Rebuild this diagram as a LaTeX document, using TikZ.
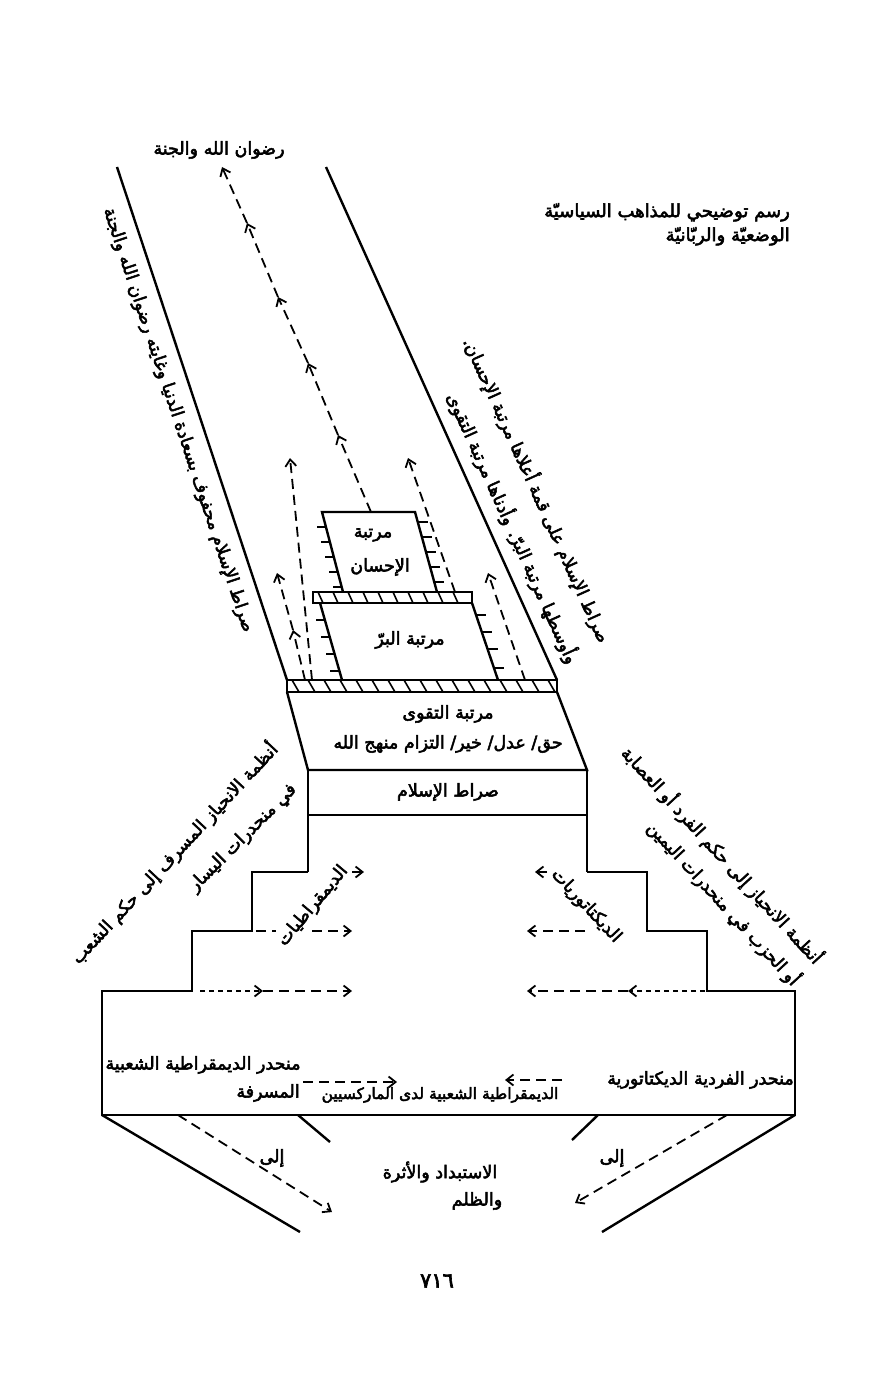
\documentclass[tikz,border=0pt]{standalone}
\usepackage{fontspec}
\usetikzlibrary{arrows.meta}
\newfontfamily\arfont[Script=Arabic,FakeBold=3]{DejaVu Sans}
\TeXXeTstate=1
\newcommand\artx[1]{\beginR #1\endR}
\begin{document}
\begin{tikzpicture}[x=1pt,y=-1pt,
 ln/.style={line width=2.4pt, line join=miter},
 tk/.style={line width=1.8pt},
 hl/.style={line width=1.6pt},
 dsh/.style={line width=1.8pt, dash pattern=on 10pt off 6pt},
 dsf/.style={line width=1.8pt, dash pattern=on 5pt off 4pt},
 arr/.style={-{Straight Barb[length=7pt,width=11pt]}},
 txt/.style={font=\arfont\fontsize{17.5}{21}\selectfont, inner sep=0pt, align=center},
 txtb/.style={font=\arfont\fontsize{18}{24}\selectfont, inner sep=0pt, align=right}]
\useasboundingbox (0,0) rectangle (873,1380);

% ---------- road ----------
\draw[ln] (117,167) -- (287,680);
\draw[ln] (326,167) -- (557,680);

% lower hatched band
\draw[ln] (287,680) rectangle (557,692);
\foreach \x in {292,308,...,548} \draw[hl] (\x,680) -- (\x+7,692);
% Taqwa box
\draw[ln] (287,692) -- (308,770) -- (587,770) -- (557,692);
% Islam box and its walls
\draw[ln] (308,770) -- (308,872);
\draw[ln] (587,770) -- (587,872);
\draw[ln] (308,815) -- (587,815);

% stairs and lower box
\draw[ln] (308,872) -- (252,872) -- (252,931) -- (192,931) -- (192,991) -- (102,991)
  -- (102,1115) -- (795,1115) -- (795,991) -- (707,991) -- (707,931) -- (647,931)
  -- (647,872) -- (587,872);

% lines below
\draw[ln] (102,1115) -- (300,1232);
\draw[ln] (298,1115) -- (330,1142);
\draw[ln] (795,1115) -- (602,1232);
\draw[ln] (598,1115) -- (572,1140);
\coordinate (bl0) at (178,1115); \coordinate (bl1) at (332,1212);
\coordinate (br0) at (727,1115); \coordinate (br1) at (575,1203);
\draw[dsh,arr] (bl0) -- (bl1);
\draw[dsh,arr] (br0) -- (br1);

% upper hatched band
\draw[ln] (313,592) rectangle (472,603);
\foreach \x in {318,333,...,463} \draw[hl] (\x,592) -- (\x+5,603);
% Birr box
\draw[ln] (320,603) -- (342,680);
\draw[ln] (472,603) -- (498,680);
\foreach \y in {620,637,654,671} \draw[tk] ({320+(\y-603)*0.2857},\y) -- ++(-9,0);
\foreach \y in {615,632,649,668} \draw[tk] ({472+(\y-603)*0.3377},\y) -- ++(10,0);
% Ihsan box
\draw[ln] (343,592) -- (322,512) -- (415,512) -- (437,592);
\foreach \y in {527,542,557,572,587} \draw[tk] ({322+(\y-512)*0.2625},\y) -- ++(-9,0);
\foreach \y in {522,537,552,567,582} \draw[tk] ({415+(\y-512)*0.275},\y) -- ++(10,0);

% dashed arrows in the road
\coordinate (c0) at (371,512); \coordinate (c1) at (338,435); \coordinate (c2) at (308,363);
\coordinate (c3) at (278,297); \coordinate (c4) at (247,223); \coordinate (c5) at (222,167);
\draw[dsh,arr] (c0) -- (c1);
\draw[dsh,arr] (c1) -- (c2);
\draw[dsh,arr] (c2) -- (c3);
\draw[dsh,arr] (c3) -- (c4);
\draw[dsh,arr] (c4) -- (c5);
\coordinate (l10) at (312,680); \coordinate (l11) at (290,458);
\draw[dsh,arr] (l10) -- (l11);
\coordinate (l20) at (305,680); \coordinate (l21) at (293,630); \coordinate (l22) at (277,573);
\draw[dsh,arr] (l20) -- (l21);
\draw[dsh,arr] (l21) -- (l22);
\coordinate (r10) at (455,592); \coordinate (r11) at (408,458);
\draw[dsh,arr] (r10) -- (r11);
\coordinate (r20) at (525,680); \coordinate (r21) at (488,573);
\draw[dsh,arr] (r20) -- (r21);

% stair arrows
\coordinate (sa0) at (352,872); \coordinate (sa1) at (364,872);
\draw[tk,arr] (sa0) -- (sa1);
\draw[dsh] (256,931) -- (276,931);
\coordinate (sb0) at (312,931); \coordinate (sb1) at (352,931);
\draw[dsh,arr] (sb0) -- (sb1);
\coordinate (sc0) at (200,991); \coordinate (sc1) at (263,991); \coordinate (sc2) at (352,991);
\draw[dsf,arr] (sc0) -- (sc1);
\draw[dsh,arr] (sc1) -- (sc2);
\coordinate (ta0) at (547,872); \coordinate (ta1) at (535,872);
\draw[tk,arr] (ta0) -- (ta1);
\coordinate (tb0) at (585,931); \coordinate (tb1) at (527,931);
\draw[dsh,arr] (tb0) -- (tb1);
\coordinate (tc0) at (705,991); \coordinate (tc1) at (628,991); \coordinate (tc2) at (527,991);
\draw[dsf,arr] (tc0) -- (tc1);
\draw[dsh,arr] (tc1) -- (tc2);

% arrows in lower box
\coordinate (ba0) at (303,1082); \coordinate (ba1) at (397,1082);
\draw[dsh,arr] (ba0) -- (ba1);
\coordinate (bb0) at (562,1080); \coordinate (bb1) at (505,1080);
\draw[dsh,arr] (bb0) -- (bb1);

% ---------- texts ----------
\node[txt] (goal) at (219,150) {\artx{رضوان الله والجنة}};
\node[txtb, anchor=north east] (title) at (790,203) {\artx{رسم توضيحي للمذاهب السياسيّة}\\\artx{الوضعيّة والربّانيّة}};

\node[txt, rotate=-71.66] (lroad) at (178,420) {\artx{صراط الإسلام محفوف بسعادة الدنيا وغايته رضوان الله والجنة}};
\node[txt, rotate=-65.76] (rroad1) at (537,490) {\artx{صراط الإسلام على قمة أعلاها مرتبة الإحسان.}};
\node[txt, rotate=-65.76] (rroad2) at (513,528) {\artx{وأوسطها مرتبة البرّ. وأدناها مرتبة التقوى}};

\node[txt] (ihsan1) at (373,535) {\artx{مرتبة}};
\node[txt] (ihsan2) at (380,567) {\artx{الإحسان}};
\node[txt] (birr) at (410,640) {\artx{مرتبة البرّ}};
\node[txt] (taqwa) at (448,714) {\artx{مرتبة التقوى}};
\node[txt] (values) at (448,744) {\artx{حق/ عدل/ خير/ التزام منهج الله}};
\node[txt] (islam) at (448,792) {\artx{صراط الإسلام}};

\node[txt, rotate=47] (left1) at (174,853) {\artx{أنظمة الانحياز المسرف إلى حكم الشعب}};
\node[txt, rotate=45] (left2) at (243,838) {\artx{في منحدرات اليسار}};
\node[txt, rotate=-47.4] (right1) at (722,855) {\artx{أنظمة الانحياز إلى حكم الفرد أو العصابة}};
\node[txt, rotate=-47.4] (right2) at (724,903) {\artx{أو الحزب في منحدرات اليمين}};

\node[txt, rotate=50] (dem) at (313,906) {\artx{الديمقراطيات}};
\node[txt, rotate=-47] (dic) at (586,906) {\artx{الديكتاتوريات}};

\node[txt] (sl1) at (203,1065) {\artx{منحدر الديمقراطية الشعبية}};
\node[txt] (sl2) at (268,1093) {\artx{المسرفة}};
\node[txt, font=\arfont\fontsize{15.5}{19}\selectfont] (sr2) at (440,1095) {\artx{الديمقراطية الشعبية لدى الماركسيين}};
\node[txt, anchor=east] (sr1) at (794,1080) {\artx{منحدر الفردية الديكتاتورية}};

\node[txt] (ila1) at (272,1158) {\artx{إلى}};
\node[txt] (ila2) at (612,1158) {\artx{إلى}};
\node[txt] (end1) at (440,1172) {\artx{الاستبداد والأثرة}};
\node[txt] (end2) at (477,1201) {\artx{والظلم}};

\node[txt, font=\arfont\fontsize{21}{24}\selectfont] (page) at (437,1281) {٧١٦};
\end{tikzpicture}
\end{document}
